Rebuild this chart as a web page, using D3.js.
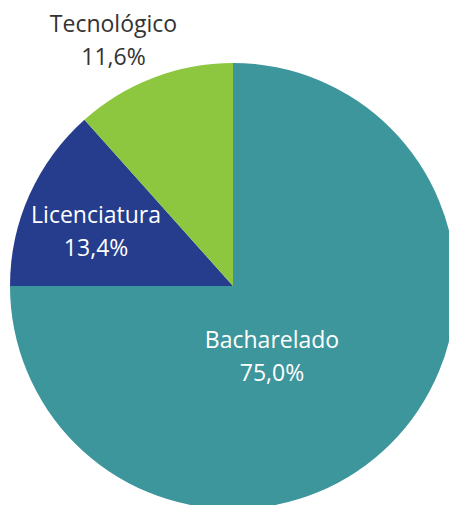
<!DOCTYPE html>
<html><head><meta charset="utf-8">
<script src="https://cdn.jsdelivr.net/npm/d3@7"></script>
<style>html,body{margin:0;padding:0;background:#fff;overflow:hidden}</style>
</head><body>
<svg id="c" width="449" height="505"></svg>
<script>
const categories = ["Bacharelado", "Licenciatura", "Tecnológico"];
const values = [75.0, 13.4, 11.6];
const labels = ["75,0%", "13,4%", "11,6%"];
const colors = ["#3D969C", "#253D8C", "#8DC63F"];
const textColors = ["#ffffff", "#ffffff", "#333333"];
// label offsets (first-line baseline) relative to center, as fraction of radius
const labelOffsets = [[0.175, 0.278], [-0.614, -0.2825], [-0.536, -1.139]];

const svg = d3.select("#c");
const cx = 233, cy = 286, R = 223;
const g = svg.append("g").attr("transform", `translate(${cx},${cy})`);
const data = categories.map((c, i) => ({c, v: values[i], i}));
const pie = d3.pie().value(d => d.v).sort(null);
const arc = d3.arc().innerRadius(0).outerRadius(R);
g.selectAll("path").data(pie(data)).enter().append("path")
  .attr("d", arc).attr("fill", d => colors[d.data.i]);

const lab = g.selectAll("text.l").data(data).enter().append("text")
  .attr("class", "l")
  .attr("text-anchor", "middle")
  .attr("font-family", "'Open Sans', sans-serif")
  .attr("font-size", 23)
  .attr("fill", d => textColors[d.i])
  .attr("transform", d => `translate(${labelOffsets[d.i][0]*R},${labelOffsets[d.i][1]*R})`);
lab.append("tspan").attr("x", 0).attr("y", 0).text(d => d.c);
lab.append("tspan").attr("x", 0).attr("y", 33).text(d => labels[d.i]);
</script>
</body></html>
